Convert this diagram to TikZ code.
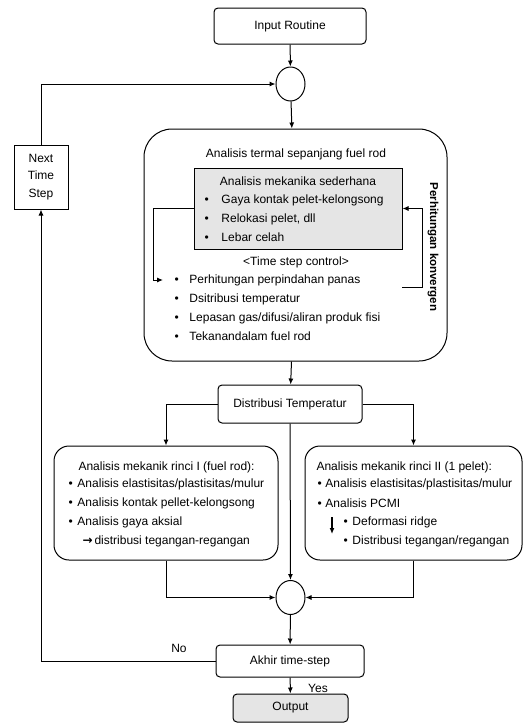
\documentclass[tikz,border=0pt]{standalone}
\usepackage{fontspec}
\setmainfont{Liberation Sans}
\newfontfamily\arrowfont{DejaVu Sans}
\usetikzlibrary{arrows.meta,shapes.geometric,positioning}

\newcommand{\bul}[2]{\makebox[#1][l]{\textbullet}#2}

\begin{document}
\begin{tikzpicture}[x=1pt,y=-1pt,
    font=\fontsize{12}{14}\selectfont,
    line width=1pt,
    >={Latex[length=6pt,width=5pt]},
    stepbox/.style={draw,rounded corners=4pt,inner sep=0pt},
    joint/.style={draw,ellipse,minimum width=29pt,minimum height=34pt,inner sep=0pt},
    txt/.style={inner sep=0pt,anchor=west},
    greyfill/.style={fill=black!10}]
    \useasboundingbox (0,0) rectangle (532,724);

    % top: input and first junction
    \node[stepbox,minimum width=152pt,minimum height=36pt] (input) at (290,26) {Input Routine};
    \node[joint] (top) at (290.5,84) {};
    \node[draw,inner sep=0pt,minimum width=54pt,minimum height=64pt,align=center,
        font=\fontsize{12}{17.5}\selectfont] (next) at (41,177) {Next\\Time\\Step};

    % thermal analysis block
    \node[draw,rounded corners=28pt,minimum width=303pt,minimum height=232pt] (thermal) at (295.5,245) {};
    \node[inner sep=0pt] (thtitle) at (296,154) {Analisis termal sepanjang fuel rod};
    \node[draw,greyfill,minimum width=208pt,minimum height=81pt] (mech) at (298,208.5) {};
    \node[inner sep=0pt] (mechtitle) at (298,181) {Analisis mekanika sederhana};
    \node[txt] (m1) at (204,200) {\bul{17pt}{Gaya kontak pelet-kelongsong}};
    \node[txt] (m2) at (204,219) {\bul{17pt}{Relokasi pelet, dll}};
    \node[txt] (m3) at (204,237) {\bul{17pt}{Lebar celah}};
    \node[inner sep=0pt] (tsc) at (296,262) {<Time step control>};
    \node[txt] (heat) at (174,280) {\bul{15pt}{Perhitungan perpindahan panas}};
    \node[txt] (t2) at (174,299) {\bul{15pt}{Dsitribusi temperatur}};
    \node[txt] (t3) at (174,318) {\bul{15pt}{Lepasan gas/difusi/aliran produk fisi}};
    \node[txt] (t4) at (174,336) {\bul{15pt}{Tekanandalam fuel rod}};
    \node[inner sep=0pt,rotate=-90,font=\bfseries\fontsize{11.5}{14}\selectfont] (conv) at (433,247) {Perhitungan konvergen};
    \coordinate (loopend) at (402,287);

    % temperature distribution and detail analyses
    \node[stepbox,minimum width=144pt,minimum height=38pt] (dist) at (290,404) {Distribusi Temperatur};
    \node[draw,rounded corners=15pt,minimum width=224pt,minimum height=114pt] (left) at (166,503) {};
    \node[draw,rounded corners=15pt,minimum width=217pt,minimum height=114pt] (right) at (413.5,503) {};
    \node[txt] (l0) at (78,467) {Analisis mekanik rinci I (fuel rod):};
    \node[txt] (l1) at (68,484) {\bul{9pt}{Analisis elastisitas/plastisitas/mulur}};
    \node[txt] (l2) at (68,503) {\bul{9pt}{Analisis kontak pellet-kelongsong}};
    \node[txt] (l3) at (68,522) {\bul{9pt}{Analisis gaya aksial}};
    \node[txt] (l4) at (82,541) {\makebox[12pt][l]{\arrowfont\bfseries →}distribusi tegangan-regangan};
    \node[txt] (r0) at (316,467) {Analisis mekanik rinci II (1 pelet):};
    \node[txt] (r1) at (317,484) {\bul{8pt}{Analisis elastisitas/plastisitas/mulur}};
    \node[txt] (r2) at (317,503) {\bul{8pt}{Analisis PCMI}};
    \node[txt] (r3) at (343,522) {\bul{9pt}{Deformasi ridge}};
    \node[txt] (r4) at (343,541) {\bul{9pt}{Distribusi tegangan/regangan}};
    \coordinate (dstart) at (332,517);
    \coordinate (dend) at (332,534);

    % bottom: junction, end of step and output
    \node[joint] (bot) at (290.5,597.5) {};
    \node[stepbox,minimum width=148pt,minimum height=32pt] (akhir) at (290,661) {Akhir time-step};
    \node[stepbox,greyfill,minimum width=115pt,minimum height=28pt] (output) at (290.5,708) {Output};
    \node[inner sep=0pt] (no) at (179,648) {No};
    \node[inner sep=0pt] (yes) at (318,688) {Yes};

    % connectors
    \draw[->] (input) -- (top);
    \draw[->] (top) -- (thermal);
    \draw[->] (next.north) |- (top.west);
    \draw[->] (mech.west) -- ++(-40,0) |- ([xshift=-11pt]heat.west);
    \draw[->] (loopend) -- ++(20,0) |- (mech.east);
    \draw[->] (thermal) -- (dist);
    \draw[->] (dist.west) -| (left.north);
    \draw[->] (dist.east) -| (right.north);
    \draw[->, line width=1.4pt] (dstart) -- (dend);
    \draw[->] (dist) -- (bot);
    \draw[->] (left.south) |- (bot.west);
    \draw[->] (right.south) |- (bot.east);
    \draw[->] (bot) -- (akhir);
    \draw[->] (akhir) -- (output);
    \draw[->] (akhir.west) -| (next.south);
\end{tikzpicture}
\end{document}
